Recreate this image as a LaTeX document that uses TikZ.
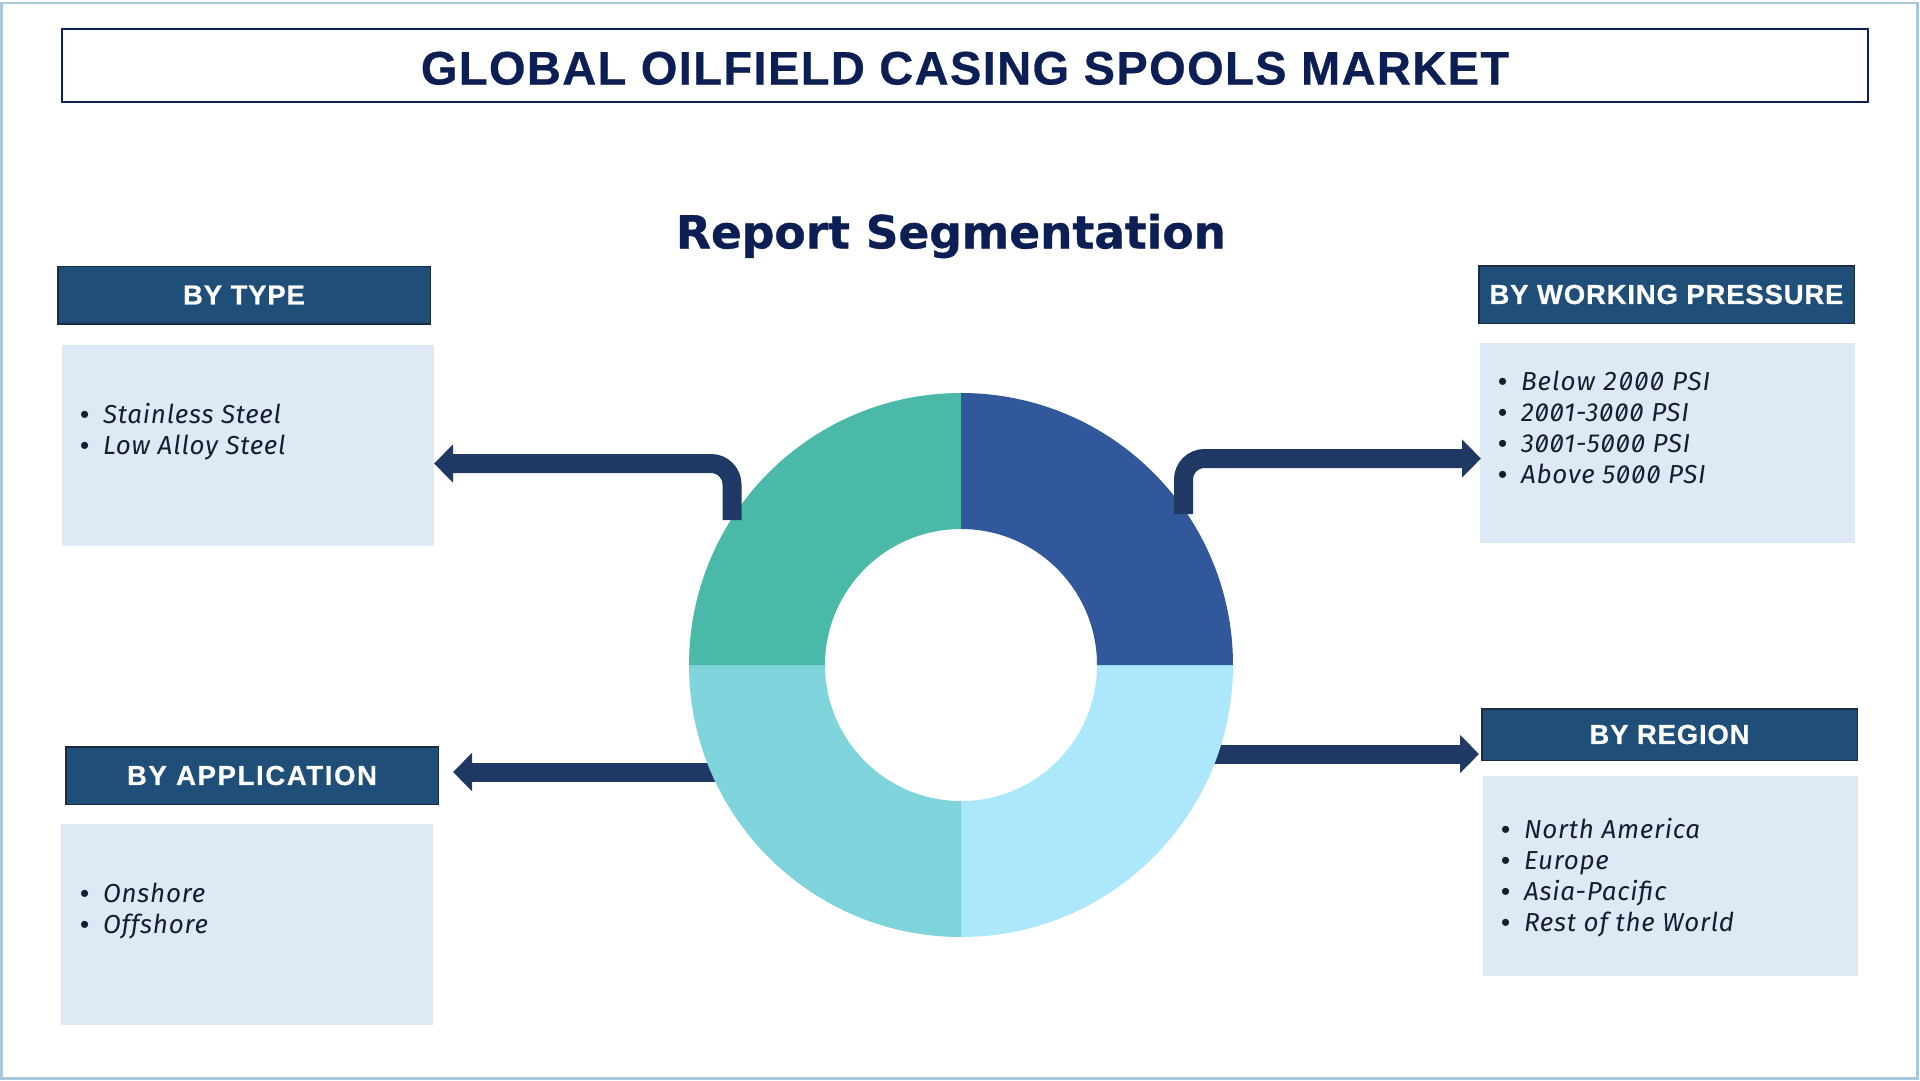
\documentclass[tikz,border=0pt]{standalone}
\usepackage{fontspec}
\setmainfont{Fira Sans}[RawFeature=+zero,LetterSpace=3]
\newfontfamily\headfont{Liberation Sans}[LetterSpace=3,FakeBold=0.6]
\newfontfamily\reportfont{DejaVu Sans}[FakeBold=0.8]
\newfontfamily\bulletfont{Liberation Sans}
\usetikzlibrary{arrows.meta,positioning}
\definecolor{framecol}{HTML}{A9C8DC}
\definecolor{inkcol}{HTML}{0B1F54}
\definecolor{headcol}{HTML}{1F4E79}
\definecolor{headline}{HTML}{1B2B40}
\definecolor{bodycol}{HTML}{DEE9F6}
\definecolor{listcol}{HTML}{161D2E}
\definecolor{flowcol}{HTML}{1F3864}
\definecolor{sliceA}{HTML}{ADE7FC}
\definecolor{sliceB}{HTML}{7FD3DB}
\definecolor{sliceC}{HTML}{4AB9A8}
\definecolor{sliceD}{HTML}{30589A}
\newcommand{\segitem}[1]{\makebox[23pt][l]{\bulletfont\textbullet}\textit{#1}}
\begin{document}
\begin{tikzpicture}[x=1pt,y=-1pt,
    titlebox/.style={draw=inkcol,line width=1.5pt,minimum width=1806pt,minimum height=73pt,inner sep=0pt,text=inkcol,font=\fontsize{47}{50}\headfont\bfseries},
    headbox/.style={draw=headline,line width=1.5pt,fill=headcol,minimum width=372.5pt,minimum height=57.5pt,inner sep=0pt,text=white,font=\fontsize{27.5}{32}\headfont\bfseries},
    bodybox/.style={fill=bodycol,minimum width=372pt,minimum height=201pt,inner sep=0pt},
    listbox/.style={align=left,inner sep=0pt,text=listcol,font=\fontsize{26}{31}\selectfont},
    flowline/.style={draw=flowcol,line width=19pt,rounded corners=21pt,-{Triangle[width=37pt,length=19pt]}}]
    \useasboundingbox (0,0) rectangle (1920,1080);
    \draw[framecol,line width=2.5pt] (1.5,3) rectangle (1917.5,1078.5);
    \node[titlebox] (title) at (965,65.5) {\raisebox{0pt}[38pt][0pt]{GLOBAL OILFIELD CASING SPOOLS MARKET}};
    \node[text=inkcol,font=\fontsize{45.5}{50}\reportfont\bfseries] (report) at (951,236) {Report Segmentation};

    \node[headbox] (typehead) at (244,295) {BY TYPE};
    \node[bodybox] (typebody) [below=20pt of typehead,xshift=4pt] {};
    \node[listbox] (typelist) [below right=59pt and 18pt of typebody.north west] {\segitem{Stainless Steel}\\\segitem{Low Alloy Steel}};

    \node[headbox,minimum width=375.5pt] (presshead) at (1666.5,294.5) {BY WORKING PRESSURE};
    \node[bodybox,minimum width=375pt,minimum height=200pt] (pressbody) [below=19pt of presshead,xshift=1pt] {};
    \node[listbox] (presslist) [below right=28pt and 18pt of pressbody.north west] {\addfontfeature{Numbers=Monospaced,LetterSpace=4}\segitem{Below 2000 PSI}\\\segitem{2001-3000 PSI}\\\segitem{3001-5000 PSI}\\\segitem{Above 5000 PSI}};

    \node[headbox] (apphead) at (252,775.5) {\addfontfeature{LetterSpace=6}BY APPLICATION};
    \node[bodybox] (appbody) [below=19pt of apphead,xshift=-5pt] {};
    \node[listbox] (applist) [below right=59pt and 19pt of appbody.north west] {\segitem{Onshore}\\\segitem{Offshore}};

    \node[headbox,minimum width=375.5pt,minimum height=51.5pt] (reghead) at (1669.5,734.5) {BY REGION};
    \node[bodybox,minimum width=375pt,minimum height=200pt] (regbody) [below=15pt of reghead,xshift=1pt] {};
    \node[listbox] (reglist) [below right=42pt and 18pt of regbody.north west] {\segitem{North America}\\\segitem{Europe}\\\segitem{Asia-Pacific}\\\segitem{Rest of the World}};

    \coordinate (ring) at (961,665);
    \coordinate (apptail) at (730,772);
    \coordinate (apptip) at (453,772);
    \coordinate (regtail) at (1190,754);
    \coordinate (regtip) at (1479,754);
    \coordinate (typetail) at (732,520);
    \coordinate (typetip) at (434,463.5);
    \coordinate (presstail) at (1183.5,514);
    \coordinate (presstip) at (1481,458.5);

    \draw[flowline] (apptail) -- (apptip);
    \draw[flowline] (regtail) -- (regtip);
    \foreach \startang/\slicecol in {0/sliceA,90/sliceB,180/sliceC,270/sliceD}
        \fill[\slicecol,shift={(ring)}] (\startang:272) arc[start angle=\startang,delta angle=90,radius=272]
            -- (\startang+90:136) arc[start angle=\startang+90,delta angle=-90,radius=136] -- cycle;
    \draw[flowline] (typetail) |- (typetip);
    \draw[flowline] (presstail) |- (presstip);
\end{tikzpicture}
\end{document}
